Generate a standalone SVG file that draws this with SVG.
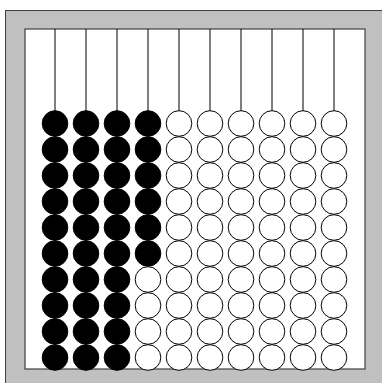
<svg xmlns="http://www.w3.org/2000/svg" width="382" height="383" viewBox="0 0 382 383">
<defs>
<style>
.frame{fill:#c0c0c0;stroke:#404040;stroke-width:1}
.board{fill:#fff;stroke:#404040;stroke-width:1.2}
.wire{stroke:#000;stroke-width:1}
.b{fill:#000;stroke:#000;stroke-width:1}
.w{fill:#fff;stroke:#000;stroke-width:1}
</style>
<circle id="bd" r="12.8"/>
</defs>
<rect class="frame" x="5.5" y="10.5" width="400" height="400"/>
<rect class="board" x="25" y="29" width="340" height="340"/>
<g id="connectors">
<line class="wire" x1="55" y1="29" x2="55" y2="123"/>
<line class="wire" x1="86" y1="29" x2="86" y2="123"/>
<line class="wire" x1="117" y1="29" x2="117" y2="123"/>
<line class="wire" x1="148" y1="29" x2="148" y2="123"/>
<line class="wire" x1="179" y1="29" x2="179" y2="123"/>
<line class="wire" x1="210" y1="29" x2="210" y2="123"/>
<line class="wire" x1="241" y1="29" x2="241" y2="123"/>
<line class="wire" x1="272" y1="29" x2="272" y2="123"/>
<line class="wire" x1="303" y1="29" x2="303" y2="123"/>
<line class="wire" x1="334" y1="29" x2="334" y2="123"/>
</g>
<g id="col1" class="b">
<use href="#bd" x="55" y="123.5"/><use href="#bd" x="55" y="149.5"/><use href="#bd" x="55" y="175.5"/><use href="#bd" x="55" y="201.5"/><use href="#bd" x="55" y="227.5"/><use href="#bd" x="55" y="253.5"/><use href="#bd" x="55" y="279.5"/><use href="#bd" x="55" y="305.5"/><use href="#bd" x="55" y="331.5"/><use href="#bd" x="55" y="357.5"/>
</g>
<g id="col2" class="b">
<use href="#bd" x="86" y="123.5"/><use href="#bd" x="86" y="149.5"/><use href="#bd" x="86" y="175.5"/><use href="#bd" x="86" y="201.5"/><use href="#bd" x="86" y="227.5"/><use href="#bd" x="86" y="253.5"/><use href="#bd" x="86" y="279.5"/><use href="#bd" x="86" y="305.5"/><use href="#bd" x="86" y="331.5"/><use href="#bd" x="86" y="357.5"/>
</g>
<g id="col3" class="b">
<use href="#bd" x="117" y="123.5"/><use href="#bd" x="117" y="149.5"/><use href="#bd" x="117" y="175.5"/><use href="#bd" x="117" y="201.5"/><use href="#bd" x="117" y="227.5"/><use href="#bd" x="117" y="253.5"/><use href="#bd" x="117" y="279.5"/><use href="#bd" x="117" y="305.5"/><use href="#bd" x="117" y="331.5"/><use href="#bd" x="117" y="357.5"/>
</g>
<g id="col4">
<g class="b"><use href="#bd" x="148" y="123.5"/><use href="#bd" x="148" y="149.5"/><use href="#bd" x="148" y="175.5"/><use href="#bd" x="148" y="201.5"/><use href="#bd" x="148" y="227.5"/><use href="#bd" x="148" y="253.5"/></g>
<g class="w"><use href="#bd" x="148" y="279.5"/><use href="#bd" x="148" y="305.5"/><use href="#bd" x="148" y="331.5"/><use href="#bd" x="148" y="357.5"/></g>
</g>
<g id="col5" class="w">
<use href="#bd" x="179" y="123.5"/><use href="#bd" x="179" y="149.5"/><use href="#bd" x="179" y="175.5"/><use href="#bd" x="179" y="201.5"/><use href="#bd" x="179" y="227.5"/><use href="#bd" x="179" y="253.5"/><use href="#bd" x="179" y="279.5"/><use href="#bd" x="179" y="305.5"/><use href="#bd" x="179" y="331.5"/><use href="#bd" x="179" y="357.5"/>
</g>
<g id="col6" class="w">
<use href="#bd" x="210" y="123.5"/><use href="#bd" x="210" y="149.5"/><use href="#bd" x="210" y="175.5"/><use href="#bd" x="210" y="201.5"/><use href="#bd" x="210" y="227.5"/><use href="#bd" x="210" y="253.5"/><use href="#bd" x="210" y="279.5"/><use href="#bd" x="210" y="305.5"/><use href="#bd" x="210" y="331.5"/><use href="#bd" x="210" y="357.5"/>
</g>
<g id="col7" class="w">
<use href="#bd" x="241" y="123.5"/><use href="#bd" x="241" y="149.5"/><use href="#bd" x="241" y="175.5"/><use href="#bd" x="241" y="201.5"/><use href="#bd" x="241" y="227.5"/><use href="#bd" x="241" y="253.5"/><use href="#bd" x="241" y="279.5"/><use href="#bd" x="241" y="305.5"/><use href="#bd" x="241" y="331.5"/><use href="#bd" x="241" y="357.5"/>
</g>
<g id="col8" class="w">
<use href="#bd" x="272" y="123.5"/><use href="#bd" x="272" y="149.5"/><use href="#bd" x="272" y="175.5"/><use href="#bd" x="272" y="201.5"/><use href="#bd" x="272" y="227.5"/><use href="#bd" x="272" y="253.5"/><use href="#bd" x="272" y="279.5"/><use href="#bd" x="272" y="305.5"/><use href="#bd" x="272" y="331.5"/><use href="#bd" x="272" y="357.5"/>
</g>
<g id="col9" class="w">
<use href="#bd" x="303" y="123.5"/><use href="#bd" x="303" y="149.5"/><use href="#bd" x="303" y="175.5"/><use href="#bd" x="303" y="201.5"/><use href="#bd" x="303" y="227.5"/><use href="#bd" x="303" y="253.5"/><use href="#bd" x="303" y="279.5"/><use href="#bd" x="303" y="305.5"/><use href="#bd" x="303" y="331.5"/><use href="#bd" x="303" y="357.5"/>
</g>
<g id="col10" class="w">
<use href="#bd" x="334" y="123.5"/><use href="#bd" x="334" y="149.5"/><use href="#bd" x="334" y="175.5"/><use href="#bd" x="334" y="201.5"/><use href="#bd" x="334" y="227.5"/><use href="#bd" x="334" y="253.5"/><use href="#bd" x="334" y="279.5"/><use href="#bd" x="334" y="305.5"/><use href="#bd" x="334" y="331.5"/><use href="#bd" x="334" y="357.5"/>
</g>
</svg>
